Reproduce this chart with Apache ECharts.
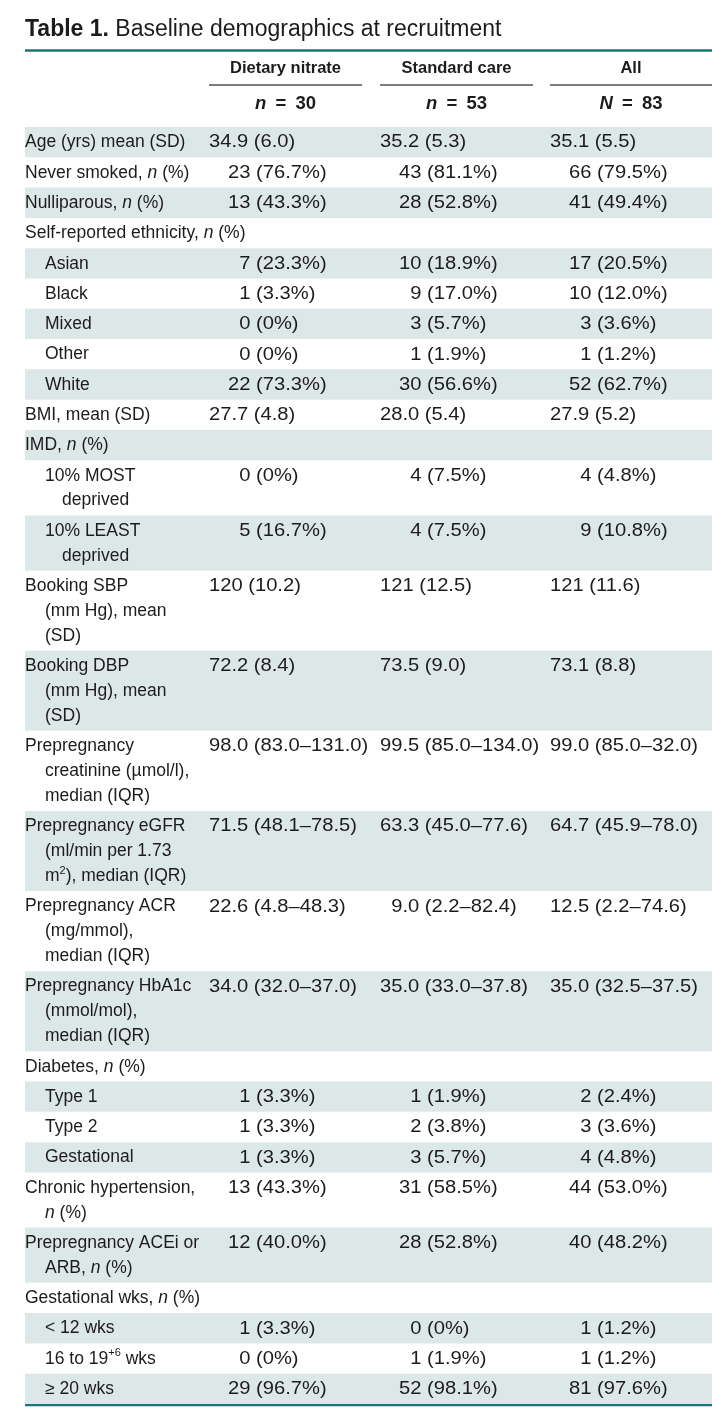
<!DOCTYPE html>
<html>
<head>
<meta charset="utf-8">
<script src="https://cdn.jsdelivr.net/npm/echarts@6/dist/echarts.min.js"></script>
<style>
  html, body { margin: 0; padding: 0; background: #fff; }
  #chart { width: 712px; height: 1416px; }
</style>
</head>
<body>
<div id="chart"></div>
<script>
// ---- table data ----
const groupNames = ['Dietary nitrate', 'Standard care', 'All'];
const groupN = ['{i|n} = 30', '{i|n} = 53', '{i|N} = 83'];

const rowLabels = [
  'Age (yrs) mean (SD)',
  'Never smoked, {i|n} (%)',
  'Nulliparous, {i|n} (%)',
  'Self-reported ethnicity, {i|n} (%)',
  'Asian',
  'Black',
  'Mixed',
  'Other',
  'White',
  'BMI, mean (SD)',
  'IMD, {i|n} (%)',
  '10% MOST\ndeprived',
  '10% LEAST\ndeprived',
  'Booking SBP\n(mm Hg), mean\n(SD)',
  'Booking DBP\n(mm Hg), mean\n(SD)',
  'Prepregnancy\ncreatinine (\u00b5mol/l),\nmedian (IQR)',
  'Prepregnancy eGFR\n(ml/min per 1.73\nm{sup|2}), median (IQR)',
  'Prepregnancy ACR\n(mg/mmol),\nmedian (IQR)',
  'Prepregnancy HbA1c\n(mmol/mol),\nmedian (IQR)',
  'Diabetes, {i|n} (%)',
  'Type 1',
  'Type 2',
  'Gestational',
  'Chronic hypertension,\n{i|n} (%)',
  'Prepregnancy ACEi or\nARB, {i|n} (%)',
  'Gestational wks, {i|n} (%)',
  '< 12 wks',
  '16 to 19{sup|+6} wks',
  '\u2265 20 wks'
];
// 0 = main item, 1 = sub item
const rowLevel = [0, 0, 0, 0, 1, 1, 1, 1, 1, 0, 0, 1, 1, 0, 0, 0, 0, 0, 0, 0, 1, 1, 1, 0, 0, 0, 1, 1, 1];

const nitrate = ['34.9 (6.0)', '23 (76.7%)', '13 (43.3%)', '', '7 (23.3%)', '1 (3.3%)', '0 (0%)', '0 (0%)',
  '22 (73.3%)', '27.7 (4.8)', '', '0 (0%)', '5 (16.7%)', '120 (10.2)', '72.2 (8.4)', '98.0 (83.0\u2013131.0)',
  '71.5 (48.1\u201378.5)', '22.6 (4.8\u201348.3)', '34.0 (32.0\u201337.0)', '', '1 (3.3%)', '1 (3.3%)', '1 (3.3%)',
  '13 (43.3%)', '12 (40.0%)', '', '1 (3.3%)', '0 (0%)', '29 (96.7%)'];
const standard = ['35.2 (5.3)', '43 (81.1%)', '28 (52.8%)', '', '10 (18.9%)', '9 (17.0%)', '3 (5.7%)', '1 (1.9%)',
  '30 (56.6%)', '28.0 (5.4)', '', '4 (7.5%)', '4 (7.5%)', '121 (12.5)', '73.5 (9.0)', '99.5 (85.0\u2013134.0)',
  '63.3 (45.0\u201377.6)', '9.0 (2.2\u201382.4)', '35.0 (33.0\u201337.8)', '', '1 (1.9%)', '2 (3.8%)', '3 (5.7%)',
  '31 (58.5%)', '28 (52.8%)', '', '0 (0%)', '1 (1.9%)', '52 (98.1%)'];
const allGroup = ['35.1 (5.5)', '66 (79.5%)', '41 (49.4%)', '', '17 (20.5%)', '10 (12.0%)', '3 (3.6%)', '1 (1.2%)',
  '52 (62.7%)', '27.9 (5.2)', '', '4 (4.8%)', '9 (10.8%)', '121 (11.6)', '73.1 (8.8)', '99.0 (85.0\u201332.0)',
  '64.7 (45.9\u201378.0)', '12.5 (2.2\u201374.6)', '35.0 (32.5\u201337.5)', '', '2 (2.4%)', '3 (3.6%)', '4 (4.8%)',
  '44 (53.0%)', '40 (48.2%)', '', '1 (1.2%)', '1 (1.2%)', '81 (97.6%)'];

// ---- layout ----
const W = 712, H = 1416;
const TABLE_LEFT = 25;
const COL_LEFT = [209, 380, 550];
const COL_RIGHT = [362, 533, 712];
const ROW_TOP = 127, ROW_BOTTOM = 1404;
const EXTRA_LINE = 0.822;       // extra height of each wrapped line, in row units
const FONT = 'Liberation Sans';
const INK = '#1e1b1c';
const SHADE = '#dce7e8';
const TEAL = '#1c747b';

const columns = [nitrate, standard, allGroup];

// row extents in row units, from how many lines each label has
let acc = 0;
const rowData = rowLabels.map((label, i) => {
  const lines = label.split('\n').length;
  const start = acc;
  acc += 1 + (lines - 1) * EXTRA_LINE;
  return [i, start, acc];
});
const totalUnits = acc;

const rich = {
  i: { fontFamily: FONT, fontSize: 17.5, fontStyle: 'italic', fill: INK, lineHeight: 22 },
  sup: { fontFamily: FONT, fontSize: 11, fill: INK, verticalAlign: 'top', lineHeight: 12 }
};

function renderRow(params, api) {
  const i = api.value(0);
  const yTop = api.coord([0, api.value(1)])[1];
  const yBot = api.coord([0, api.value(2)])[1];
  const lineStep = api.size([0, EXTRA_LINE])[1];
  const firstY = yTop + 15.5;
  const xL = api.coord([TABLE_LEFT, 0])[0];
  const xR = api.coord([W, 0])[0];
  const children = [];

  if (i % 2 === 0) {
    children.push({
      type: 'rect',
      shape: { x: xL, y: yTop, width: xR - xL, height: yBot - yTop },
      style: { fill: SHADE }
    });
  }

  const level = rowLevel[i];
  rowLabels[i].split('\n').forEach((line, k) => {
    const indent = level * 20 + (k > 0 ? (level ? 17 : 20) : 0);
    children.push({
      type: 'text',
      x: xL + indent,
      y: firstY + k * lineStep,
      style: {
        text: line, fontFamily: FONT, fontSize: 17.5, fill: INK, lineHeight: 22,
        align: 'left', verticalAlign: 'middle', rich: rich
      }
    });
  });

  const sx = 1.12, fs = 18;
  columns.forEach((col, c) => {
    const v = col[i];
    if (!v) return;
    const m = /^(\d+)/.exec(v);
    const pad = Math.max(0, 2 - (m ? m[1].length : 2)) * 0.556 * fs * sx;
    const indent = v.indexOf('%') >= 0 ? 19 : 0;
    children.push({
      type: 'text',
      x: api.coord([COL_LEFT[c], 0])[0] + indent + pad,
      y: firstY,
      scaleX: sx,
      style: {
        text: v, fontFamily: FONT, fontSize: fs, fill: INK,
        align: 'left', verticalAlign: 'middle'
      }
    });
  });

  return { type: 'group', children: children };
}

// ---- header graphics ----
const graphics = [
  {
    type: 'text', x: TABLE_LEFT, y: 30,
    style: {
      text: '{b|Table 1.} Baseline demographics at recruitment',
      fontFamily: FONT, fontSize: 23, fill: INK, verticalAlign: 'middle',
      rich: { b: { fontFamily: FONT, fontSize: 23, fontWeight: 'bold', fill: INK } }
    }
  },
  { type: 'line', shape: { x1: TABLE_LEFT, y1: 50.5, x2: W, y2: 50.5 }, style: { stroke: TEAL, lineWidth: 2.5 } },
  { type: 'line', shape: { x1: TABLE_LEFT, y1: 1405, x2: W, y2: 1405 }, style: { stroke: TEAL, lineWidth: 2.5 } }
];
groupNames.forEach((name, c) => {
  const cx = (COL_LEFT[c] + COL_RIGHT[c]) / 2;
  graphics.push({
    type: 'text', x: cx, y: 68,
    style: { text: name, fontFamily: FONT, fontSize: 16.5, fontWeight: 'bold', fill: INK, align: 'center', verticalAlign: 'middle' }
  });
  graphics.push({
    type: 'line', shape: { x1: COL_LEFT[c], y1: 85, x2: COL_RIGHT[c], y2: 85 },
    style: { stroke: '#505050', lineWidth: 1.6 }
  });
  graphics.push({
    type: 'text', x: cx, y: 104,
    style: {
      text: groupN[c].replace(' = ', '\u2002=\u2002'), fontFamily: FONT, fontSize: 18.5, fontWeight: 'bold', fill: INK,
      align: 'center', verticalAlign: 'middle',
      rich: { i: { fontFamily: FONT, fontSize: 18.5, fontWeight: 'bold', fontStyle: 'italic', fill: INK } }
    }
  });
});

const chart = echarts.init(document.getElementById('chart'), null, { renderer: 'canvas' });
chart.setOption({
  animation: false,
  backgroundColor: '#fff',
  grid: { left: 0, right: 0, top: ROW_TOP, bottom: H - ROW_BOTTOM },
  xAxis: { type: 'value', min: 0, max: W, show: false },
  yAxis: { type: 'value', min: 0, max: totalUnits, inverse: true, show: false },
  graphic: graphics,
  series: [{
    type: 'custom',
    clip: false,
    renderItem: renderRow,
    encode: { x: 0, y: 1 },
    data: rowData
  }]
});
</script>
</body>
</html>
